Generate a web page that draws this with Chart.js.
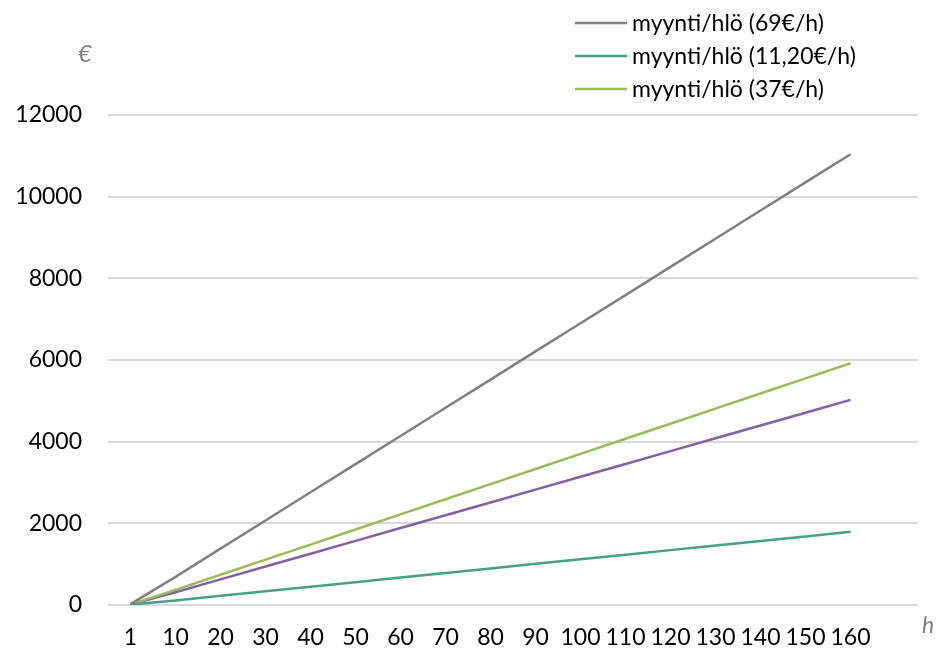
<!DOCTYPE html>
<html lang="fi">
  <head>
    <meta charset="UTF-8" />
    <title>Myynti per henkilö</title>
    <script src="https://cdn.jsdelivr.net/npm/chart.js"></script>
    <style>
      html, body { margin: 0; padding: 0; background: #fff; }
      .chart-container { width: 937px; height: 650px; }
    </style>
  </head>
  <body>
    <div class="chart-container">
      <canvas id="salesChart"></canvas>
    </div>

    <script>
      // hours (last empty slot keeps the spacing like the original axis)
      const hours = ["1", "10", "20", "30", "40", "50", "60", "70", "80", "90", "100", "110", "120", "130", "140", "150", "160", ""];
      const yTicks = [0, 2000, 4000, 6000, 8000, 10000, 12000];

      const sales69 = [20, 690, 1380, 2070, 2760, 3450, 4140, 4830, 5520, 6210, 6900, 7590, 8280, 8970, 9660, 10350, 11040];
      const sales1120 = [10, 112, 224, 336, 448, 560, 672, 784, 896, 1008, 1120, 1232, 1344, 1456, 1568, 1680, 1792];
      const sales37 = [15, 370, 740, 1110, 1480, 1850, 2220, 2590, 2960, 3330, 3700, 4070, 4440, 4810, 5180, 5550, 5920];
      const salesOther = [15, 314, 628, 942, 1256, 1570, 1884, 2198, 2512, 2826, 3140, 3454, 3768, 4082, 4396, 4710, 5024];

      const FONT = "Lato, 'Open Sans', sans-serif";

      // legend + axis captions drawn on the canvas
      const extrasPlugin = {
        id: "extras",
        afterDraw(chart) {
          const ctx = chart.ctx;
          ctx.save();
          // legend (only labelled series)
          const items = chart.data.datasets.filter((d) => d.inLegend);
          items.forEach((d, i) => {
            const y = 23 + i * 33;
            ctx.strokeStyle = d.borderColor;
            ctx.lineWidth = 2.5;
            ctx.beginPath();
            ctx.moveTo(575, y);
            ctx.lineTo(627, y);
            ctx.stroke();
            ctx.fillStyle = "#000";
            ctx.font = "23px " + FONT;
            ctx.textBaseline = "middle";
            ctx.textAlign = "left";
            ctx.fillText(d.label, 632, y + 1);
          });
          // axis captions
          ctx.fillStyle = "#808080";
          ctx.font = "italic 23px " + FONT;
          ctx.textAlign = "center";
          ctx.textBaseline = "middle";
          ctx.fillText("€", 85, 55);
          ctx.fillText("h", 928, 626);
          ctx.restore();
        },
      };

      const ctx = document.getElementById("salesChart").getContext("2d");
      new Chart(ctx, {
        type: "line",
        data: {
          labels: hours,
          datasets: [
            { label: "myynti/hlö (69€/h)", data: sales69, borderColor: "#808080", inLegend: true },
            { label: "myynti/hlö (11,20€/h)", data: sales1120, borderColor: "#45a085", inLegend: true },
            { label: "myynti/hlö (37€/h)", data: sales37, borderColor: "#9bbb59", inLegend: true },
            { label: "", data: salesOther, borderColor: "#8064a2", inLegend: false },
          ],
        },
        options: {
          responsive: true,
          maintainAspectRatio: false,
          animation: false,
          layout: { padding: { top: 115, left: 0, right: 19, bottom: 0 } },
          elements: {
            point: { radius: 0 },
            line: { borderWidth: 2.5, tension: 0 },
          },
          plugins: {
            legend: { display: false },
            tooltip: { enabled: false },
          },
          scales: {
            x: {
              offset: true,
              grid: { display: false, drawTicks: false },
              border: { display: false },
              ticks: {
                autoSkip: false,
                maxRotation: 0,
                padding: 19,
                color: "#000",
                font: { family: FONT, size: 23 },
              },
              afterFit(scale) { scale.height = 45; },
            },
            y: {
              min: 0,
              max: 12000,
              afterBuildTicks(scale) {
                scale.ticks = yTicks.map((v) => ({ value: v }));
              },
              grid: { color: "#d9d9d9", lineWidth: 2, drawTicks: false },
              border: { display: false },
              ticks: {
                padding: 26,
                color: "#000",
                font: { family: FONT, size: 23 },
                callback: (v) => String(v),
              },
              afterFit(scale) { scale.width = 108; },
            },
          },
        },
        plugins: [extrasPlugin],
      });
    </script>
  </body>
</html>
